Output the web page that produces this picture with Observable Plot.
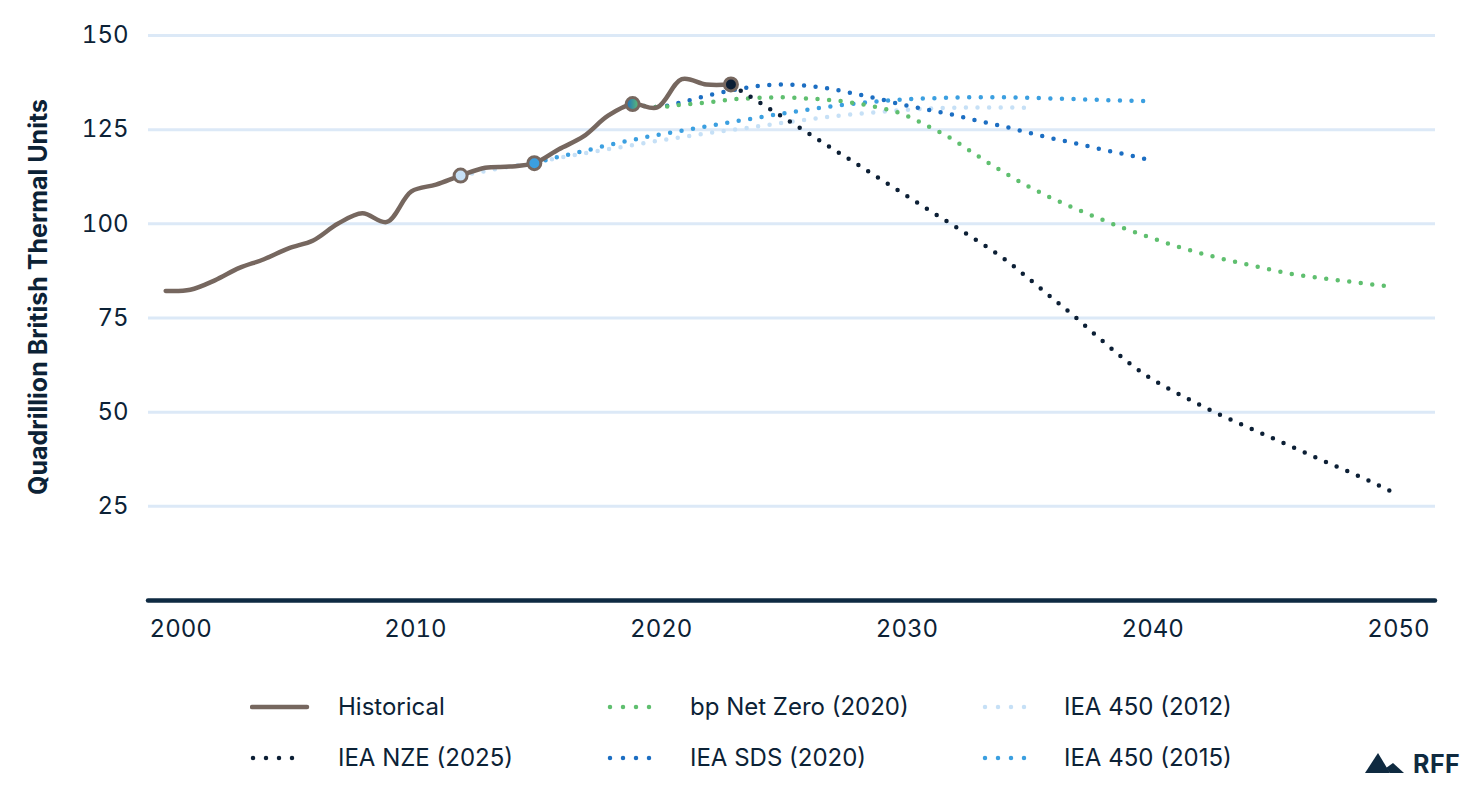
<!DOCTYPE html>
<html>
<head>
<meta charset="utf-8">
<script src="https://cdn.jsdelivr.net/npm/d3@7"></script>
<script src="https://cdn.jsdelivr.net/npm/@observablehq/plot@0.6"></script>
<style>
  html, body { margin: 0; padding: 0; background: #ffffff; }
  body { font-family: Inter, "Noto Sans", sans-serif; color: #0c2236; }
  #wrap { position: relative; width: 1480px; height: 794px; overflow: hidden; }
  #chart { position: absolute; left: 0; top: 0; }
  .lg { position: absolute; height: 34px; }
  .lg svg { position: absolute; left: 0; top: 0; }
  .lg span { position: absolute; top: 0; line-height: 34px; font-size: 24px; white-space: nowrap; color: #0c2236; }
  #logo { position: absolute; left: 1360px; top: 748px; }
</style>
</head>
<body>
<div id="wrap">
  <div id="chart"></div>
  <div id="legend"></div>
  <svg id="logo" width="115" height="34" viewBox="0 0 115 34">
    <polygon points="5,25 18,5 30,25" fill="#0f2a40"/>
    <polygon points="26,20 33,15 44,25 30,25" fill="#0f2a40"/>
    <text x="53" y="25" font-family="Inter, sans-serif" font-weight="700" font-size="25" fill="#0f2a40" letter-spacing="0.5">RFF</text>
  </svg>
</div>
<script>
// ---------------- data ----------------
const histYears = [2000,2001,2002,2003,2004,2005,2006,2007,2008,2009,2010,2011,2012,2013,2014,2015,2016,2017,2018,2019,2020,2021,2022,2023];
const histValues = [82.2,82.5,85.0,88.3,90.6,93.5,95.6,100.0,102.8,100.5,108.6,110.4,112.8,114.9,115.2,116.1,119.8,123.2,128.7,131.8,130.9,138.4,137.0,137.0];

const iea450_2012Years = [2012,2013,2014,2015,2016,2017,2018,2019,2020,2021,2022,2023,2024,2025,2026,2027,2028,2029,2030,2031,2032,2033,2034,2035];
const iea450_2012Values = [112.8,114.0,115.2,116.3,117.5,118.7,119.8,120.9,122.0,123.0,124.0,124.9,125.8,126.7,127.6,128.4,129.1,129.7,130.2,130.6,130.8,130.9,130.9,130.8];

const iea450_2015Years = [2015,2016,2017,2018,2019,2020,2021,2022,2023,2024,2025,2026,2027,2028,2029,2030,2031,2032,2033,2034,2035,2036,2037,2038,2039,2040];
const iea450_2015Values = [116.1,117.8,119.3,120.9,122.3,123.6,124.7,125.9,127.0,128.1,129.2,130.2,131.1,131.9,132.5,133.0,133.3,133.5,133.6,133.6,133.5,133.3,133.1,132.9,132.7,132.6];

const sdsYears = [2019,2020,2021,2022,2023,2024,2025,2026,2027,2028,2029,2030,2031,2032,2033,2034,2035,2036,2037,2038,2039,2040];
const sdsValues = [131.8,131.0,132.3,134.0,135.4,136.5,137.0,136.7,135.9,134.6,133.2,131.6,130.3,129.0,127.4,126.0,124.4,122.8,121.4,119.9,118.5,117.0];

const bpYears = [2019,2020,2021,2022,2023,2024,2025,2026,2027,2028,2029,2030,2031,2032,2033,2034,2035,2036,2037,2038,2039,2040,2041,2042,2043,2044,2045,2046,2047,2048,2049,2050];
const bpValues = [131.8,131.0,131.6,132.2,133.0,133.4,133.6,133.3,132.9,132.1,130.9,129.1,126.0,122.5,118.2,114.1,110.3,107.0,104.1,101.4,98.8,96.5,94.3,92.4,90.7,89.2,87.8,86.5,85.6,84.8,84.0,83.2];

const nzeYears = [2023,2024,2025,2026,2027,2028,2029,2030,2031,2032,2033,2034,2035,2036,2037,2038,2039,2040,2041,2042,2043,2044,2045,2046,2047,2048,2049,2050];
const nzeValues = [137.0,132.9,128.8,124.7,120.5,116.4,112.2,108.1,103.9,99.8,95.6,91.3,86.1,80.7,75.3,69.6,64.1,59.3,55.6,52.2,49.0,46.1,43.2,40.3,37.4,34.6,31.7,28.5];

// publication-year markers on the historical line
const markerYears = [2012, 2015, 2019, 2023];
const markerKeys = ["IEA 450 (2012)", "IEA 450 (2015)", "2020", "IEA NZE (2025)"];

const xTickValues = [2000, 2010, 2020, 2030, 2040, 2050];
const yTickValues = [25, 50, 75, 100, 125, 150];
const yTitle = "Quadrillion British Thermal Units";

const legendNames = ["Historical", "IEA NZE (2025)", "bp Net Zero (2020)", "IEA SDS (2020)", "IEA 450 (2012)", "IEA 450 (2015)"];

// ---------------- styles ----------------
const colors = {
  "Historical": "#76675f",
  "IEA NZE (2025)": "#0c1f35",
  "bp Net Zero (2020)": "#5fbf6f",
  "IEA SDS (2020)": "#1c6ec2",
  "IEA 450 (2012)": "#c6e0f6",
  "IEA 450 (2015)": "#3b9fe0",
  "2020": "url(#grad2019)"
};
const ink = "#0c2236";

// ---------------- tables ----------------
const toRows = (years, values, series) => years.map((y, i) => ({year: y, value: values[i], series}));
const hist = toRows(histYears, histValues, "Historical");
const s2012 = toRows(iea450_2012Years, iea450_2012Values, "IEA 450 (2012)");
const s2015 = toRows(iea450_2015Years, iea450_2015Values, "IEA 450 (2015)");
const sds = toRows(sdsYears, sdsValues, "IEA SDS (2020)");
const bp = toRows(bpYears, bpValues, "bp Net Zero (2020)");
const nze = toRows(nzeYears, nzeValues, "IEA NZE (2025)");
const markers = markerYears.map((y, i) => ({year: y, value: histValues[histYears.indexOf(y)], key: markerKeys[i]}));

const dotted = (data, name) => Plot.line(data, {
  x: "year", y: "value", stroke: colors[name], strokeWidth: 4.5,
  strokeDasharray: "0 11.6", strokeLinecap: "round", curve: "monotone-x"
});

const svg = Plot.plot({
  width: 1480,
  height: 665,
  marginLeft: 148,
  marginRight: 45,
  marginTop: 35,
  marginBottom: 65,
  style: {fontFamily: "Inter, 'Noto Sans', sans-serif", fontSize: "24px", color: ink, background: "#ffffff"},
  x: {domain: [1999.3, 2051.67], label: null},
  y: {domain: [0, 150], label: null},
  color: {type: "identity"},
  marks: [
    Plot.gridY(yTickValues, {stroke: "#dce9f7", strokeOpacity: 1, strokeWidth: 3}),
    Plot.ruleY([0], {stroke: "#0e2a42", strokeWidth: 4.5, strokeLinecap: "round"}),
    Plot.axisY(yTickValues, {tickSize: 0, tickPadding: 20, fontSize: 24, fill: ink, label: null}),
    Plot.axisX(xTickValues.slice(0, 1), {tickSize: 0, tickPadding: 19, fontSize: 24, fill: ink, dx: 15, tickFormat: d => String(d), label: null}),
    Plot.axisX(xTickValues.slice(1), {tickSize: 0, tickPadding: 19, fontSize: 24, fill: ink, dx: 4, tickFormat: d => String(d), label: null}),
    Plot.text([yTitle], {frameAnchor: "left", text: d => d, rotate: -90, textAnchor: "middle", dx: -110, dy: -21, fontWeight: 700, fontSize: 25, fill: ink}),
    dotted(s2012, "IEA 450 (2012)"),
    dotted(s2015, "IEA 450 (2015)"),
    dotted(sds, "IEA SDS (2020)"),
    dotted(bp, "bp Net Zero (2020)"),
    dotted(nze, "IEA NZE (2025)"),
    Plot.line(hist, {x: "year", y: "value", stroke: colors["Historical"], strokeWidth: 4.5, curve: "catmull-rom", strokeLinecap: "round"}),
    Plot.dot(markers, {x: "year", y: "value", r: 6.5, fill: d => colors[d.key], stroke: colors["Historical"], strokeWidth: 3})
  ]
});

// gradient for the 2019 marker (both 2020 scenarios)
const defs = d3.select(svg).insert("defs", ":first-child");
const g = defs.append("linearGradient").attr("id", "grad2019").attr("x1", "0%").attr("x2", "100%").attr("y1", "0%").attr("y2", "0%");
g.append("stop").attr("offset", "0%").attr("stop-color", colors["IEA SDS (2020)"]);
g.append("stop").attr("offset", "100%").attr("stop-color", colors["bp Net Zero (2020)"]);

document.getElementById("chart").appendChild(svg);

// ---------------- legend ----------------
const legendPos = [
  {left: 250, top: 690}, {left: 250, top: 741},
  {left: 607, top: 690}, {left: 607, top: 741},
  {left: 982, top: 690}, {left: 982, top: 741}
];
const legend = document.getElementById("legend");
legendNames.forEach((name, i) => {
  const p = legendPos[i];
  const div = document.createElement("div");
  div.className = "lg";
  div.style.left = p.left + "px";
  div.style.top = p.top + "px";
  div.style.width = "360px";
  const solid = name === "Historical";
  div.innerHTML =
    `<svg width="70" height="34"><line x1="${solid ? 2 : 3}" x2="${solid ? 57 : 55}" y1="17" y2="17" stroke="${colors[name]}" stroke-width="4.5" stroke-linecap="round" ${solid ? "" : 'stroke-dasharray="0 13"'}/></svg>` +
    `<span style="left:${name === "Historical" || name === "IEA NZE (2025)" ? 88 : (i < 4 ? 83 : 82)}px">${name}</span>`;
  legend.appendChild(div);
});
</script>
</body>
</html>
